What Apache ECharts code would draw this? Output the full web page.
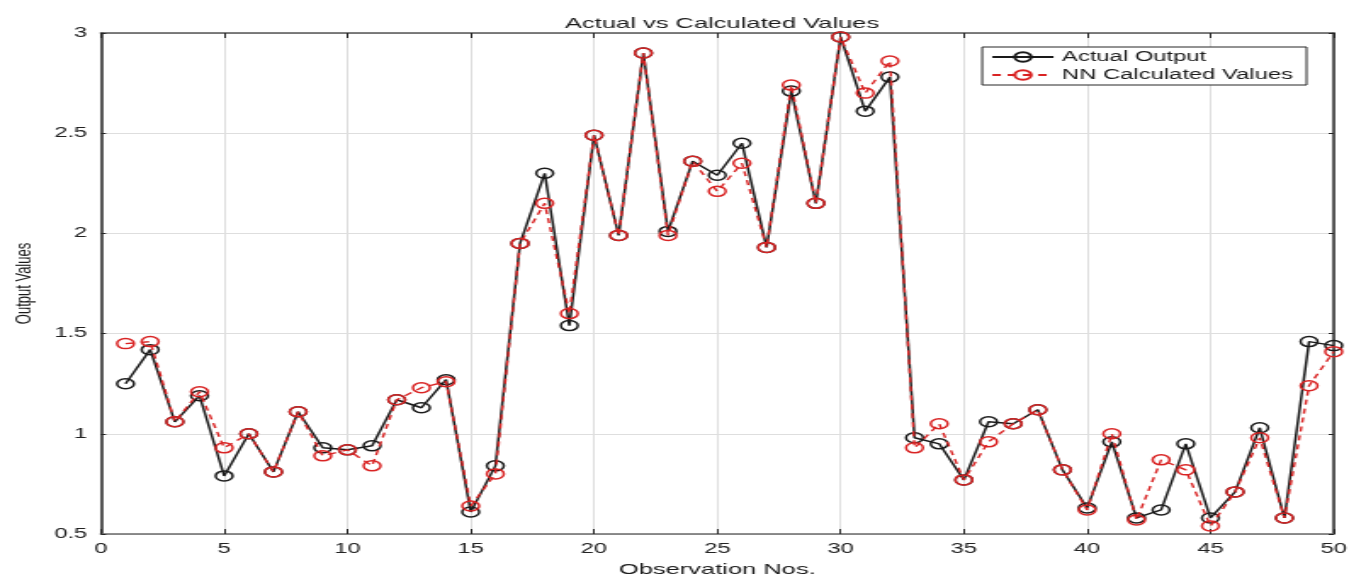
<!DOCTYPE html>
<html>
<head>
<meta charset="utf-8">
<title>Actual vs Calculated Values</title>
<script src="https://cdn.jsdelivr.net/npm/echarts@6/dist/echarts.min.js"></script>
<style>
  html, body { margin: 0; padding: 0; background: #fff; overflow: hidden; }
  /* the figure is drawn narrow and widened horizontally, giving the wide lettering and oval markers */
  #chart { width: 804px; height: 582px; transform: scaleX(1.699); transform-origin: 0 0; }
</style>
</head>
<body>
<div id="chart"></div>
<script>
// Observation numbers
const obs = [1, 2, 3, 4, 5, 6, 7, 8, 9, 10, 11, 12, 13, 14, 15, 16, 17, 18, 19, 20,
             21, 22, 23, 24, 25, 26, 27, 28, 29, 30, 31, 32, 33, 34, 35, 36, 37, 38, 39, 40,
             41, 42, 43, 44, 45, 46, 47, 48, 49, 50];

// Measured output
const actualOutput = [1.25, 1.42, 1.06, 1.19, 0.79, 1.00, 0.81, 1.11, 0.93, 0.92,
                      0.94, 1.17, 1.13, 1.27, 0.61, 0.84, 1.95, 2.30, 1.54, 2.49,
                      1.99, 2.90, 2.01, 2.36, 2.29, 2.45, 1.93, 2.71, 2.15, 2.98,
                      2.61, 2.78, 0.98, 0.95, 0.77, 1.06, 1.05, 1.12, 0.82, 0.63,
                      0.96, 0.58, 0.62, 0.95, 0.58, 0.71, 1.03, 0.58, 1.46, 1.44];

// Neural network predictions
const nnCalculated = [1.45, 1.46, 1.06, 1.21, 0.93, 1.00, 0.81, 1.11, 0.89, 0.92,
                      0.84, 1.17, 1.23, 1.26, 0.64, 0.80, 1.95, 2.15, 1.60, 2.49,
                      1.99, 2.90, 1.99, 2.36, 2.21, 2.35, 1.93, 2.74, 2.15, 2.98,
                      2.70, 2.86, 0.93, 1.05, 0.77, 0.96, 1.05, 1.12, 0.82, 0.62,
                      1.00, 0.57, 0.87, 0.82, 0.54, 0.71, 0.98, 0.58, 1.24, 1.41];

const seriesNames = ['Actual Output', 'NN Calculated Values'];
const xTicks = [0, 5, 10, 15, 20, 25, 30, 35, 40, 45, 50];
const yTicks = [0.5, 1, 1.5, 2, 2.5, 3];

const FONT = '"Liberation Sans", Arial, sans-serif';
const AXIS_DARK = '#262626';
const GRID_GRAY = '#dedede';
const BLACK = '#1a1a1a';
const RED = '#d92323';

const chart = echarts.init(document.getElementById('chart'), null, { renderer: 'canvas' });

const baseX = {
  type: 'value',
  min: xTicks[0],
  max: xTicks[xTicks.length - 1],
  interval: xTicks[1] - xTicks[0]
};
const baseY = {
  type: 'value',
  min: yTicks[0],
  max: yTicks[yTicks.length - 1],
  interval: yTicks[1] - yTicks[0]
};

chart.setOption({
  animation: false,
  backgroundColor: '#ffffff',
  title: {
    text: 'Actual vs Calculated Values',
    left: 420,
    textAlign: 'center',
    top: 11,
    textStyle: { fontFamily: FONT, fontSize: 15, fontWeight: 'normal', color: '#1a1a1a' }
  },
  grid: { left: 56, right: 19, top: 33, bottom: 45, containLabel: false },
  legend: {
    data: seriesNames,
    orient: 'vertical',
    right: 35,
    top: 47,
    padding: [3, 8, 3, 5],
    itemGap: 4,
    itemWidth: 36,
    itemHeight: 12,
    align: 'left',
    borderColor: AXIS_DARK,
    borderWidth: 1,
    backgroundColor: '#ffffff',
    textStyle: { fontFamily: FONT, fontSize: 14, color: '#1a1a1a' }
  },
  xAxis: [
    Object.assign({}, baseX, {
      position: 'bottom',
      name: 'Observation Nos.',
      nameLocation: 'middle',
      nameGap: 28,
      nameTextStyle: { fontFamily: FONT, fontSize: 15, color: '#1a1a1a' },
      axisLine: { show: true, onZero: false, lineStyle: { color: '#6a6a6a', width: 1.5 } },
      axisTick: { show: true, inside: true, length: 5, lineStyle: { color: AXIS_DARK, width: 1 } },
      axisLabel: { fontFamily: FONT, fontSize: 14, color: '#222', margin: 8 },
      splitLine: { show: true, lineStyle: { color: GRID_GRAY, width: 1 } }
    }),
    Object.assign({}, baseX, {
      position: 'top',
      axisLine: { show: true, onZero: false, lineStyle: { color: '#555', width: 1.5 } },
      axisTick: { show: true, inside: true, length: 5, lineStyle: { color: AXIS_DARK, width: 1 } },
      axisLabel: { show: false },
      splitLine: { show: false }
    })
  ],
  yAxis: [
    Object.assign({}, baseY, {
      position: 'left',
      name: 'Output Values',
      nameLocation: 'middle',
      nameGap: 36,
      nameTextStyle: { fontFamily: FONT, fontSize: 13, color: '#1a1a1a' },
      axisLine: { show: true, onZero: false, lineStyle: { color: AXIS_DARK, width: 1.5 } },
      axisTick: { show: true, inside: true, length: 3, lineStyle: { color: AXIS_DARK, width: 1 } },
      axisLabel: { fontFamily: FONT, fontSize: 14, color: '#222', margin: 8 },
      splitLine: { show: true, lineStyle: { color: GRID_GRAY, width: 1 } }
    }),
    Object.assign({}, baseY, {
      position: 'right',
      axisLine: { show: true, onZero: false, lineStyle: { color: AXIS_DARK, width: 1.5 } },
      axisTick: { show: true, inside: true, length: 3, lineStyle: { color: AXIS_DARK, width: 1 } },
      axisLabel: { show: false },
      splitLine: { show: false }
    })
  ],
  series: [
    {
      name: seriesNames[0],
      type: 'line',
      xAxisIndex: 0,
      yAxisIndex: 0,
      data: obs.map((o, i) => [o, actualOutput[i]]),
      symbol: 'circle',
      symbolSize: 10,
      showAllSymbol: true,
      color: BLACK,
      lineStyle: { color: BLACK, width: 1.5, type: 'solid' },
      itemStyle: { color: 'rgba(255,255,255,0)', borderColor: BLACK, borderWidth: 1.5 },
      z: 2
    },
    {
      name: seriesNames[1],
      type: 'line',
      xAxisIndex: 0,
      yAxisIndex: 0,
      data: obs.map((o, i) => [o, nnCalculated[i]]),
      symbol: 'circle',
      symbolSize: 10,
      showAllSymbol: true,
      color: RED,
      lineStyle: { color: RED, width: 1.4, type: [5, 4] },
      itemStyle: { color: 'rgba(255,255,255,0)', borderColor: RED, borderWidth: 1.5 },
      z: 3
    }
  ]
});
</script>
</body>
</html>
